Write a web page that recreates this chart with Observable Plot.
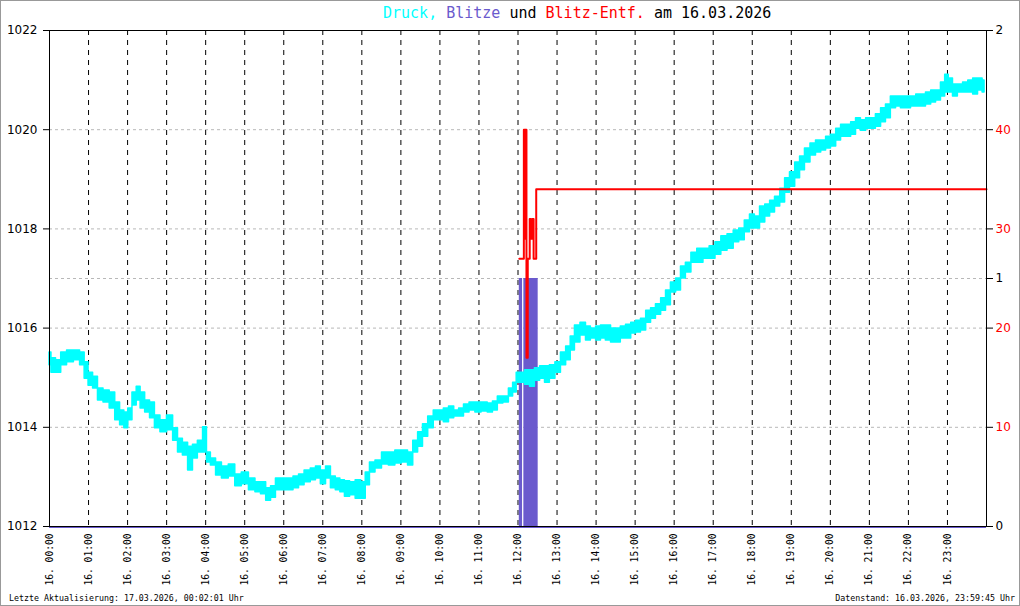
<!DOCTYPE html>
<html><head><meta charset="utf-8">
<script src="https://cdn.jsdelivr.net/npm/d3@7"></script>
<script src="https://cdn.jsdelivr.net/npm/@observablehq/plot@0.6"></script>
<style>
body{margin:0;background:#fff}
#chart{width:1020px;height:606px;position:relative}
#chart svg{display:block}
</style>
</head><body><div id="chart"></div>
<script>
// ---- Data (minutes since 00:00 on 16.03.2026) ----
const minutes = [0,6,14,22,32,43,51,57,63,71,78,88,97,105,112,118,124,131,137,143,151,158,166,175,186,194,201,209,217,224,232,240,244,252,260,270,281,290,301,312,321,329,337,344,352,361,370,380,387,397,406,413,421,429,436,444,450,458,466,475,483,489,496,506,516,527,536,547,555,563,570,578,586,595,602,610,618,626,633,641,650,659,669,678,685,693,702,710,715,721,727,735,742,750,758,765,773,782,790,798,804,811,821,828,836,844,851,859,867,874,882,890,898,905,913,921,928,936,944,951,959,967,974,982,991,1000,1010,1019,1028,1037,1047,1056,1064,1073,1080,1088,1096,1104,1111,1119,1127,1134,1142,1150,1157,1165,1174,1182,1190,1197,1205,1213,1220,1228,1236,1243,1251,1259,1266,1274,1282,1289,1297,1305,1312,1320,1328,1336,1343,1351,1359,1366,1374,1379,1385,1392,1400,1408,1416,1423,1431,1437];
const pressureHigh = [1015.51,1015.39,1015.35,1015.51,1015.55,1015.55,1015.51,1015.31,1015.10,1015.02,1014.78,1014.74,1014.70,1014.50,1014.34,1014.30,1014.38,1014.70,1014.82,1014.70,1014.54,1014.50,1014.24,1014.14,1014.24,1013.98,1013.77,1013.69,1013.61,1013.65,1013.73,1014.00,1013.49,1013.37,1013.29,1013.21,1013.25,1013.05,1013.09,1012.97,1012.89,1012.89,1012.77,1012.81,1012.97,1012.97,1012.97,1013.01,1013.05,1013.13,1013.17,1013.21,1013.13,1013.21,1013.01,1012.97,1012.93,1012.91,1012.89,1012.93,1012.89,1013.09,1013.29,1013.33,1013.49,1013.49,1013.53,1013.53,1013.49,1013.73,1013.90,1014.06,1014.22,1014.34,1014.34,1014.38,1014.42,1014.34,1014.38,1014.46,1014.50,1014.50,1014.50,1014.48,1014.52,1014.62,1014.62,1014.78,1014.90,1015.10,1015.10,1015.15,1015.15,1015.19,1015.23,1015.23,1015.25,1015.31,1015.51,1015.63,1015.83,1016.05,1016.11,1016.03,1015.99,1016.03,1016.05,1016.05,1015.99,1015.99,1016.03,1016.07,1016.11,1016.15,1016.19,1016.35,1016.40,1016.48,1016.60,1016.76,1016.92,1017.00,1017.24,1017.32,1017.52,1017.60,1017.60,1017.65,1017.73,1017.85,1017.89,1017.97,1018.01,1018.17,1018.29,1018.25,1018.45,1018.49,1018.57,1018.65,1018.81,1019.02,1019.14,1019.34,1019.46,1019.62,1019.72,1019.78,1019.78,1019.86,1019.90,1020.02,1020.10,1020.10,1020.15,1020.23,1020.19,1020.23,1020.23,1020.31,1020.43,1020.51,1020.67,1020.67,1020.67,1020.67,1020.67,1020.71,1020.71,1020.75,1020.79,1020.79,1020.95,1021.11,1021.03,1020.91,1020.91,1020.95,1020.99,1021.03,1021.03,1020.99];
const pressureLow = [1015.25,1015.10,1015.10,1015.25,1015.31,1015.35,1015.25,1014.98,1014.84,1014.78,1014.54,1014.50,1014.38,1014.14,1014.04,1013.98,1014.14,1014.44,1014.54,1014.38,1014.30,1014.18,1013.98,1013.90,1013.94,1013.73,1013.49,1013.43,1013.13,1013.37,1013.49,1013.49,1013.29,1013.23,1013.03,1012.97,1013.01,1012.81,1012.85,1012.73,1012.69,1012.65,1012.52,1012.58,1012.73,1012.73,1012.73,1012.77,1012.83,1012.89,1012.93,1012.97,1012.85,1012.97,1012.77,1012.73,1012.69,1012.60,1012.63,1012.56,1012.56,1012.83,1013.09,1013.17,1013.25,1013.23,1013.27,1013.29,1013.23,1013.49,1013.61,1013.81,1013.98,1014.14,1014.14,1014.10,1014.18,1014.22,1014.22,1014.30,1014.34,1014.30,1014.32,1014.30,1014.34,1014.48,1014.50,1014.62,1014.70,1014.90,1014.90,1014.86,1014.82,1014.94,1014.98,1014.90,1014.98,1015.10,1015.25,1015.35,1015.55,1015.71,1015.85,1015.75,1015.79,1015.75,1015.79,1015.75,1015.71,1015.71,1015.79,1015.79,1015.89,1015.91,1015.95,1016.11,1016.19,1016.27,1016.35,1016.46,1016.72,1016.76,1017.00,1017.12,1017.32,1017.32,1017.40,1017.40,1017.48,1017.56,1017.60,1017.73,1017.77,1017.93,1018.01,1018.01,1018.13,1018.25,1018.33,1018.45,1018.53,1018.73,1018.85,1019.02,1019.18,1019.34,1019.48,1019.54,1019.58,1019.62,1019.66,1019.78,1019.86,1019.86,1019.90,1020.02,1019.98,1020.02,1020.02,1020.06,1020.15,1020.23,1020.43,1020.47,1020.43,1020.43,1020.47,1020.47,1020.47,1020.51,1020.55,1020.59,1020.67,1020.75,1020.75,1020.67,1020.75,1020.75,1020.75,1020.71,1020.79,1020.75];

// lightning strikes (count per interval)
const strikeStart = [722, 729];
const strikeEnd = [727, 751];
const strikeCount = [1, 1];

// lightning distance (km), step series
const distMinutes = [722, 729, 731, 732, 733, 735, 738, 740, 742, 744, 748, 1440];
const distKm = [27, 40, 29, 40, 17, 27, 31, 29, 31, 27, 34, 34];

// axes
const hourLabels = ["16. 00:00","16. 01:00","16. 02:00","16. 03:00","16. 04:00","16. 05:00","16. 06:00","16. 07:00","16. 08:00","16. 09:00","16. 10:00","16. 11:00","16. 12:00","16. 13:00","16. 14:00","16. 15:00","16. 16:00","16. 17:00","16. 18:00","16. 19:00","16. 20:00","16. 21:00","16. 22:00","16. 23:00"];
const pressureTicks = [1012, 1014, 1016, 1018, 1020, 1022];
const strikeTicks = [0, 1, 2];
const distTicks = [10, 20, 30, 40];
const pressureDomain = [1012, 1022];
const strikeDomain = [0, 2];
const distDomain = [0, 50];
const dayDomain = [0, 1440];

// ---- secondary scales mapped into the pressure scale ----
const lin = (d0) => v => pressureDomain[0] + (v - d0[0]) / (d0[1] - d0[0]) * (pressureDomain[1] - pressureDomain[0]);
const sToP = lin(strikeDomain);
const dToP = lin(distDomain);
const pToS = p => Math.round((p - pressureDomain[0]) / (pressureDomain[1] - pressureDomain[0]) * (strikeDomain[1] - strikeDomain[0]) + strikeDomain[0]);
const pToD = p => Math.round((p - pressureDomain[0]) / (pressureDomain[1] - pressureDomain[0]) * (distDomain[1] - distDomain[0]) + distDomain[0]);

const pres = minutes.map((m, i) => ({m, hi: pressureHigh[i], lo: pressureLow[i]}));
const strikes = strikeStart.map((s, i) => ({s, e: strikeEnd[i], n: strikeCount[i]}));
const dist = distMinutes.map((m, i) => ({m, d: distKm[i]}));
const hourTicks = hourLabels.map(l => +l.slice(4, 6) * 60);
const gridLevels = [...new Set([...pressureTicks, ...strikeTicks.map(sToP), ...distTicks.map(dToP)])]
  .filter(v => v > pressureDomain[0] && v < pressureDomain[1]);

const CYAN = "#00ffff", BLUE = "#6a5acd", RED = "#ff0000";

const chart = Plot.plot({
  width: 1020, height: 606,
  marginLeft: 49, marginRight: 34, marginTop: 30, marginBottom: 80,
  style: {fontFamily: "DejaVu Sans", fontSize: "12px", background: "white", color: "black"},
  x: {domain: dayDomain},
  y: {domain: pressureDomain},
  marks: [
    Plot.ruleY(gridLevels, {stroke: "#b8b8b8", strokeDasharray: "3,3"}),
    Plot.ruleX(hourTicks.filter(t => t > 0), {stroke: "black", strokeDasharray: "5,5"}),
    Plot.rectY(strikes, {x1: "s", x2: "e", y1: () => pressureDomain[0], y2: d => sToP(d.n), fill: BLUE, inset: 0}),
    Plot.areaY(pres, {x: "m", y1: "lo", y2: "hi", fill: CYAN, stroke: CYAN, strokeWidth: 1.5, curve: "step"}),
    Plot.line(dist, {x: "m", y: d => dToP(d.d), stroke: RED, strokeWidth: 2, curve: "step-after"}),
    Plot.ruleY([pressureDomain[0]], {stroke: BLUE, dy: 1}),
    Plot.frame({stroke: "black"}),
    Plot.axisY(pressureTicks, {anchor: "left", tickSize: 6, tickPadding: 6, label: null, tickFormat: p => String(p), fontSize: 12}),
    Plot.axisY(strikeTicks.map(sToP), {anchor: "right", tickSize: 6, tickPadding: 3, label: null, tickFormat: p => String(pToS(p)), fontSize: 12}),
    Plot.axisY(distTicks.map(dToP), {anchor: "right", tickSize: 6, tickPadding: 3, label: null, tickFormat: p => String(pToD(p)), color: RED, stroke: "black", fontSize: 12}),
    Plot.axisX(hourTicks, {anchor: "bottom", tickSize: 0, tickPadding: 7, tickRotate: -90, label: null,
      tickFormat: m => hourLabels[m / 60], fontFamily: "DejaVu Sans Mono", fontSize: 9.6})
  ]
});
document.getElementById("chart").appendChild(chart);

// title, footers and outer border
const svg = d3.select(chart);
const title = svg.append("text")
  .attr("x", 383).attr("y", 17.5).attr("text-anchor", "start")
  .attr("font-family", "DejaVu Sans Mono").attr("font-size", 15)
  .style("white-space", "pre");
[["Druck,", CYAN], [" ", "black"], ["Blitze", BLUE], [" und ", "black"], ["Blitz-Entf.", RED], [" am 16.03.2026", "black"]]
  .forEach(([s, c]) => title.append("tspan").attr("fill", c).text(s));
svg.append("text").attr("x", 9).attr("y", 601).attr("text-anchor", "start")
  .attr("font-family", "DejaVu Sans Mono").attr("font-size", 8.3).attr("fill", "black")
  .text("Letzte Aktualisierung: 17.03.2026, 00:02:01 Uhr");
svg.append("text").attr("x", 1015).attr("y", 601).attr("text-anchor", "end")
  .attr("font-family", "DejaVu Sans Mono").attr("font-size", 8.3).attr("fill", "black")
  .text("Datenstand: 16.03.2026, 23:59:45 Uhr");
svg.append("rect").attr("x", 0.5).attr("y", 0.5).attr("width", 1019).attr("height", 605)
  .attr("fill", "none").attr("stroke", "#999");
</script>
</body></html>
